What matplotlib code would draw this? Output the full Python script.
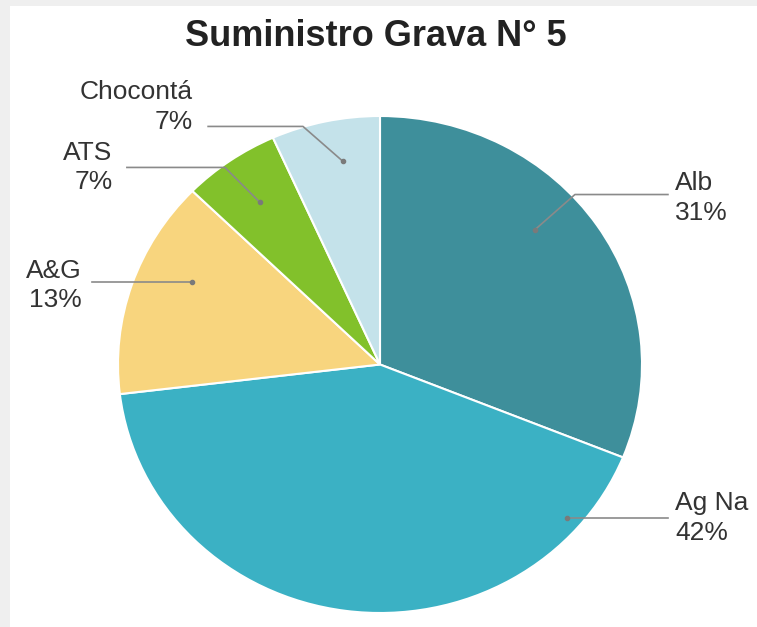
import matplotlib
matplotlib.use('Agg')
import matplotlib.pyplot as plt
from matplotlib.patches import Rectangle

# data
labels = ['Alb', 'Ag Na', 'A&G', 'ATS', 'Chocontá']
shares = [31.1, 42.0, 14.2, 6.0, 6.7]          # slice sizes
pct_text = ['31%', '42%', '13%', '7%', '7%']    # percentages as printed
colors = ['#3e8f9b', '#3bb1c4', '#f8d57e', '#82c12b', '#c4e2ea']

# label layout (axes data units): dot, elbow, line end, text pos, alignment
layout = {
    'Alb':      ((0.592, 0.543), (0.744, 0.684), (1.099, 0.684), (1.126, 0.670), 'left'),
    'Ag Na':    ((0.714, -0.616), (0.714, -0.616), (1.099, -0.616), (1.126, -0.618), 'left'),
    'A&G':      ((-0.718, 0.330), (-0.718, 0.330), (-1.099, 0.330), (-1.137, 0.318), 'right'),
    'ATS':      ((-0.458, 0.652), (-0.592, 0.793), (-0.966, 0.793), (-1.021, 0.793), 'right'),
    'Chocontá': ((-0.141, 0.817), (-0.294, 0.958), (-0.656, 0.958), (-0.714, 1.036), 'right'),
}

plt.rcParams['font.family'] = ['Liberation Sans', 'DejaVu Sans']

fig = plt.figure(figsize=(7.57, 6.27), dpi=100)
fig.patch.set_facecolor('white')

# faint grey frame at left and top
fig.add_artist(Rectangle((0, 0), 10 / 757, 1, transform=fig.transFigure,
                         facecolor='#efefef', edgecolor='none', zorder=0))
fig.add_artist(Rectangle((0, 1 - 6 / 627), 1, 6 / 627, transform=fig.transFigure,
                         facecolor='#efefef', edgecolor='none', zorder=0))

ax = fig.add_axes([118 / 757, 14 / 627, 524 / 757, 497 / 627])
ax.pie(shares, colors=colors, startangle=90, counterclock=False,
       wedgeprops=dict(edgecolor='white', linewidth=1.5))
ax.set_aspect('auto')
ax.set_xlim(-1, 1)
ax.set_ylim(-1, 1)
ax.axis('off')

for name, pct in zip(labels, pct_text):
    dot, elbow, end, tpos, ha = layout[name]
    ax.plot([dot[0], elbow[0], end[0]], [dot[1], elbow[1], end[1]],
            color='#8a8a8a', lw=1.2, clip_on=False, zorder=5)
    ax.plot(dot[0], dot[1], 'o', color='#7a7a7a', ms=3, clip_on=False, zorder=6)
    ax.text(tpos[0], tpos[1], f'{name}\n{pct}', ha=ha, va='center',
            multialignment=ha, fontsize=19, color='#333333',
            linespacing=1.28, clip_on=False)

fig.text(376 / 757, 1 - 37 / 627, 'Suministro Grava N° 5', ha='center', va='center',
         fontsize=26, fontweight='bold', color='#222222')

fig.savefig('out.png', dpi=100)
